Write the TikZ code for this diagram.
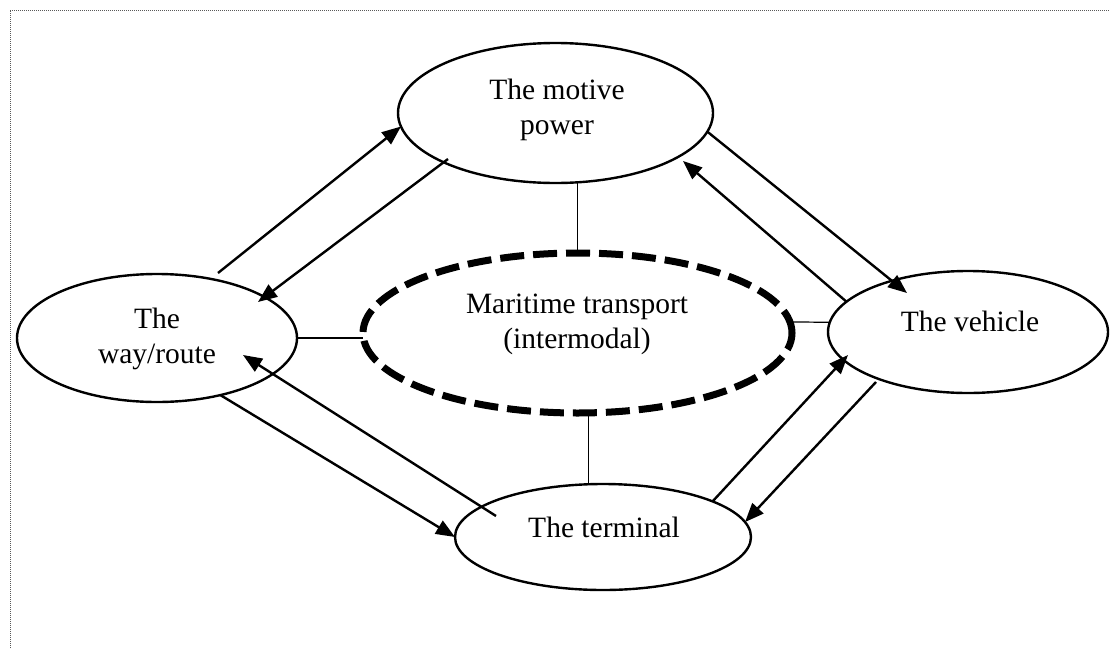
\documentclass[tikz,border=0pt]{standalone}
\usepackage{fontspec}
\setmainfont{Liberation Serif}
\usetikzlibrary{arrows.meta, shapes.geometric}
\begin{document}
\begin{tikzpicture}[x=1pt,y=-1pt,
  ell/.style={ellipse, draw, line width=2.4pt, inner sep=0pt, outer sep=0pt},
  dashell/.style={ellipse, draw, line width=7pt, dash pattern=on 24pt off 9pt, inner sep=0pt, outer sep=0pt},
  lbl/.style={font=\fontsize{29.5}{35}\selectfont, align=center, anchor=base, inner sep=0pt},
  arr/.style={line width=2.4pt, -{Triangle[length=19pt,width=15pt]}},
  link/.style={line width=1.2pt}]
\useasboundingbox (0,0) rectangle (1110,648);
\draw[gray!70!black, line width=1pt, dash pattern=on 1pt off 1pt] (10,660) -- (10,10) -- (1120,10);

\node[ell, minimum width=315pt, minimum height=140pt] (mp) at (555.5,113) {};
\node[ell, minimum width=280pt, minimum height=128pt] (way) at (157,338) {};
\node[ell, minimum width=280pt, minimum height=122pt] (vh) at (968,332) {};
\node[ell, minimum width=296pt, minimum height=106pt] (tm) at (603,537) {};
\node[dashell, minimum width=429pt, minimum height=160pt] (dash) at (577.5,333) {};

\node[lbl] (mpt) at (557,134) {The motive\\power};
\node[lbl] (wayt) at (157,363) {The\\way/route};
\node[lbl] (vht) at (970,331) {The vehicle};
\node[lbl] (dasht) at (577,348) {Maritime transport\\(intermodal)};
\node[lbl] (tmt) at (604,537) {The terminal};

\draw[link] (dash.north) -- (dash.north |- mp.south);
\draw[link] (way.east) -- (way.east -| dash.west);
\draw[link] (dash.3) -- (vh.176);
\draw[link] (dash.-82) -- (dash.-82 |- tm.105);

\coordinate (a1s) at (218,273);
\coordinate (a2s) at (448,159);
\coordinate (a2e) at (258,302);
\coordinate (a4s) at (496,516);
\coordinate (a4e) at (243,355);
\coordinate (a5e) at (907,293);
\coordinate (a6e) at (683,161);
\coordinate (a7e) at (848,355);
\coordinate (a8s) at (876,382);

\draw[arr] (a1s) -- (mp.185);
\draw[arr] (a2s) -- (a2e);
\draw[arr] (way.-42) -- (tm.west);
\draw[arr] (a4s) -- (a4e);
\draw[arr] (mp.-7) -- (a5e);
\draw[arr] (vh.166) -- (a6e);
\draw[arr] (tm.18) -- (a7e);
\draw[arr] (a8s) -- (tm.6);
\end{tikzpicture}
\end{document}
